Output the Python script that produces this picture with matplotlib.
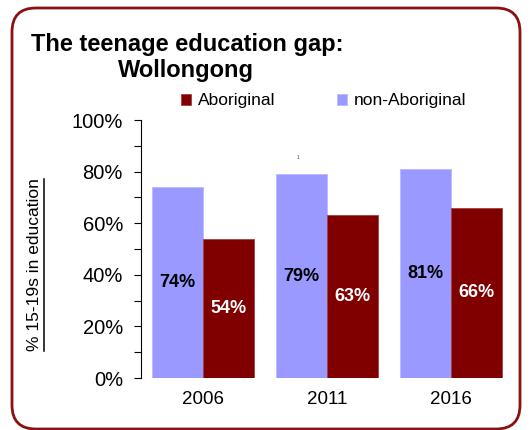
import matplotlib
matplotlib.use("Agg")
import matplotlib.pyplot as plt
import numpy as np
from matplotlib.patches import FancyBboxPatch
from matplotlib.lines import Line2D

years = ["2006", "2011", "2016"]
non_aboriginal = [74, 79, 81]
aboriginal = [54, 63, 66]
yticks = [0, 20, 40, 60, 80, 100]
ytick_labels = ["0%", "20%", "40%", "60%", "80%", "100%"]

plt.rcParams['font.family'] = ['Liberation Sans', 'DejaVu Sans']

W, H = 531, 430
fig = plt.figure(figsize=(W/100, H/100), dpi=100)

# rounded border
border = FancyBboxPatch((12/W, 1 - 429/H), (520-12)/W, (429-8)/H,
                        boxstyle="round,pad=0,rounding_size=0.045",
                        transform=fig.transFigure, fill=False,
                        edgecolor="#8B1010", linewidth=2, mutation_aspect=W/H)
fig.patches.append(border)

ax = fig.add_axes([141/W, 1 - 378/H, (513-141)/W, (378-120)/H])
x = np.arange(len(years))
bw = 0.415
purple = "#9999FF"
red = "#800000"
b1 = ax.bar(x - bw/2, non_aboriginal, bw, color=purple, edgecolor="#B8B8FF", linewidth=0.6, label="non-Aboriginal")
b2 = ax.bar(x + bw/2, aboriginal, bw, color=red, edgecolor="#A04040", linewidth=0.6, label="Aboriginal")

for xi, v in zip(x, non_aboriginal):
    ax.text(xi - bw/2, v/2, f"{v}%", ha="center", va="center", fontsize=13, fontweight="bold", color="black")
for xi, v in zip(x, aboriginal):
    ax.text(xi + bw/2, v/2, f"{v}%", ha="center", va="center", fontsize=13, fontweight="bold", color="white")

ax.set_xlim(-0.5, 2.5)
ax.set_ylim(0, 100)
ax.set_yticks(yticks)
ax.set_yticklabels(ytick_labels, fontsize=14.5)
ax.set_yticks(np.arange(10, 100, 20), minor=True)
ax.tick_params(axis="y", which="both", direction="out", length=5, width=0.8, pad=8)
ax.set_xticks(x)
ax.set_xticklabels(years, fontsize=13.5)
ax.tick_params(axis="x", length=0, pad=9)
for s in ["top", "right", "bottom"]:
    ax.spines[s].set_visible(False)
ax.spines["left"].set_linewidth(0.8)

# small marker text
ax.text(1 - bw/2 - 0.03, 85.5, "1", fontsize=3.5, color="#444444", ha="center", va="center")

# title
fig.text(31/W, 1 - 44/H, "The teenage education gap:", fontsize=17, fontweight="bold", ha="left", va="center")
fig.text(186/W, 1 - 70/H, "Wollongong", fontsize=17, fontweight="bold", ha="center", va="center")

# legend
handles = [b2, b1]
leg = fig.legend(handles, ["Aboriginal", "non-Aboriginal"], loc="center left",
                 bbox_to_anchor=(181/W, 1 - 101/H), ncol=2, frameon=False,
                 fontsize=12.5, handlelength=0.6, handleheight=0.6, handletextpad=0.4,
                 columnspacing=3.5, borderaxespad=0, borderpad=0)

# y label with underline
ylab = fig.text(35/W, 1 - 265/H, "% 15-19s in education", rotation=90, fontsize=12.5,
                ha="center", va="center")
fig.canvas.draw()
bb = ylab.get_window_extent(fig.canvas.get_renderer())
x_line = 44 / W
fig.add_artist(Line2D([x_line, x_line], [bb.y0 / H, bb.y1 / H], transform=fig.transFigure,
                      color="black", linewidth=1.1))

fig.savefig("out.png", dpi=100)
